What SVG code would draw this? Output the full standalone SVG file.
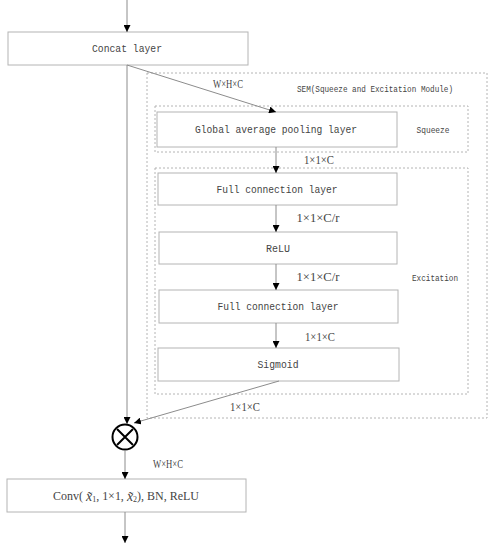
<svg xmlns="http://www.w3.org/2000/svg" width="494" height="550" viewBox="0 0 494 550">
<style>
.box{fill:#fff;stroke:#b4b4b4;stroke-width:1}
.dash{fill:none;stroke:#b4b4b4;stroke-width:1;stroke-dasharray:2,2}
.t{font-family:"Liberation Mono","DejaVu Sans Mono",monospace;font-size:11.5px;fill:#444;text-anchor:middle;dominant-baseline:central}
.s{font-family:"Liberation Mono","DejaVu Sans Mono",monospace;font-size:9px;fill:#444;text-anchor:middle;dominant-baseline:central}
.l{font-family:"Liberation Serif","DejaVu Serif",serif;font-size:12px;fill:#444;text-anchor:middle;dominant-baseline:central}
.c{fill:none;stroke:#8c8c8c;stroke-width:1}
</style>
<defs>
<marker id="ah" viewBox="0 0 10 10" refX="10" refY="5" markerWidth="7" markerHeight="7" markerUnits="userSpaceOnUse" orient="auto">
<path d="M0,0 L10,5 L0,10 z" fill="#000"/>
</marker>
</defs>
<g id="sem">
<rect class="dash" x="147" y="73" width="340" height="345"/>
<text class="s" x="375" y="90" textLength="156" lengthAdjust="spacingAndGlyphs">SEM(Squeeze and Excitation Module)</text>
</g>
<g id="squeeze">
<rect class="dash" x="155" y="106" width="313" height="46"/>
<text class="s" x="433" y="131" textLength="33" lengthAdjust="spacingAndGlyphs">Squeeze</text>
</g>
<g id="excitation">
<rect class="dash" x="155" y="168" width="313" height="226"/>
<text class="s" x="435" y="279" textLength="46" lengthAdjust="spacingAndGlyphs">Excitation</text>
</g>
<g id="concat">
<rect class="box" x="8" y="32" width="240" height="33"/>
<text class="t" x="127" y="48.5" textLength="70" lengthAdjust="spacingAndGlyphs">Concat layer</text>
</g>
<g id="gap">
<rect class="box" x="157" y="112" width="240" height="35"/>
<text class="t" x="276" y="129.5" textLength="162" lengthAdjust="spacingAndGlyphs">Global average pooling layer</text>
</g>
<g id="fc1">
<rect class="box" x="158" y="173" width="239" height="32"/>
<text class="t" x="277" y="189" textLength="121" lengthAdjust="spacingAndGlyphs">Full connection layer</text>
</g>
<g id="relu">
<rect class="box" x="159" y="232" width="238" height="32"/>
<text class="t" x="278" y="248" textLength="24" lengthAdjust="spacingAndGlyphs">ReLU</text>
</g>
<g id="fc2">
<rect class="box" x="159" y="290" width="239" height="33"/>
<text class="t" x="278" y="306.5" textLength="121" lengthAdjust="spacingAndGlyphs">Full connection layer</text>
</g>
<g id="sigmoid">
<rect class="box" x="158" y="348" width="241" height="33"/>
<text class="t" x="278" y="364.5" textLength="41" lengthAdjust="spacingAndGlyphs">Sigmoid</text>
</g>
<g id="multiply">
<circle cx="125" cy="437" r="12.5" fill="#fff" stroke="#000" stroke-width="2"/>
<path d="M117,429 L133,445 M133,429 L117,445" stroke="#000" stroke-width="2"/>
</g>
<g id="conv">
<rect class="box" x="7" y="479" width="239" height="33"/>
<text class="l" x="126" y="496" font-size="11" textLength="146" lengthAdjust="spacingAndGlyphs"><tspan>Conv( </tspan><tspan font-style="italic" font-size="14">x̃</tspan><tspan font-size="8" dy="3">1</tspan><tspan dy="-3">, 1×1, </tspan><tspan font-style="italic" font-size="14">x̃</tspan><tspan font-size="8" dy="3">2</tspan><tspan dy="-3">), BN, ReLU</tspan></text>
</g>
<g id="connectors">
<line class="c" x1="127" y1="0" x2="127" y2="32" marker-end="url(#ah)"/>
<line class="c" x1="127" y1="65" x2="127" y2="424" marker-end="url(#ah)"/>
<line class="c" x1="127" y1="65" x2="276" y2="112" marker-end="url(#ah)"/>
<line class="c" x1="276" y1="147" x2="276" y2="173" marker-end="url(#ah)"/>
<line class="c" x1="276" y1="205" x2="276" y2="232" marker-end="url(#ah)"/>
<line class="c" x1="276" y1="264" x2="276" y2="290" marker-end="url(#ah)"/>
<line class="c" x1="276" y1="323" x2="276" y2="348" marker-end="url(#ah)"/>
<line class="c" x1="279" y1="381" x2="134" y2="423" marker-end="url(#ah)"/>
<line class="c" x1="125" y1="450" x2="125" y2="479" marker-end="url(#ah)"/>
<line class="c" x1="125" y1="512" x2="125" y2="543" marker-end="url(#ah)"/>
<text class="l" x="228" y="84" textLength="30" lengthAdjust="spacingAndGlyphs">W×H×C</text>
<text class="l" x="319" y="160" textLength="30" lengthAdjust="spacingAndGlyphs">1×1×C</text>
<text class="l" x="318" y="218" textLength="43" lengthAdjust="spacingAndGlyphs">1×1×C/r</text>
<text class="l" x="318" y="277" textLength="43" lengthAdjust="spacingAndGlyphs">1×1×C/r</text>
<text class="l" x="320" y="337" textLength="30" lengthAdjust="spacingAndGlyphs">1×1×C</text>
<text class="l" x="245" y="407" textLength="30" lengthAdjust="spacingAndGlyphs">1×1×C</text>
<text class="l" x="168" y="464" textLength="30" lengthAdjust="spacingAndGlyphs">W×H×C</text>
</g>
</svg>
